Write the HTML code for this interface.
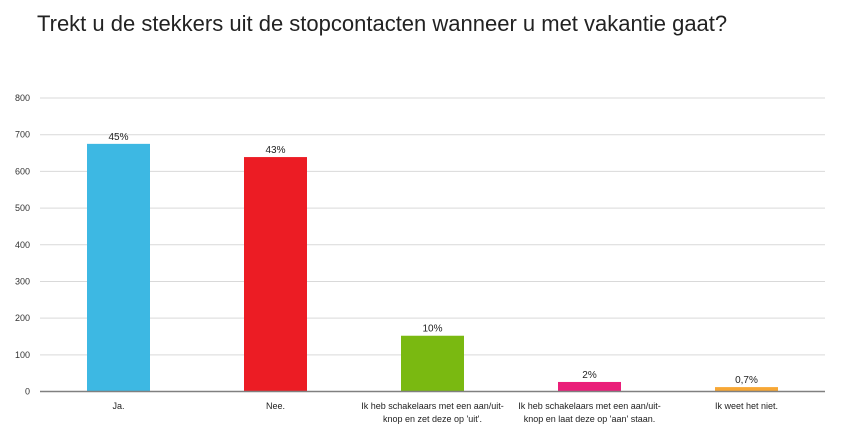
<!DOCTYPE html>
<html><head><meta charset="utf-8"><style>
body{margin:0;background:#fff;width:850px;height:429px;overflow:hidden;font-family:"Liberation Sans",sans-serif}
svg text{font-family:"Liberation Sans",sans-serif}
</style></head><body>
<svg id="chart" width="850" height="429">
<text x="37" y="31" font-size="22" fill="#222">Trekt u de stekkers uit de stopcontacten wanneer u met vakantie gaat?</text>
<g id="grid"></g><g id="bars"></g><g id="labels"></g>
</svg>
<script>
const categories=[["Ja."],["Nee."],["Ik heb schakelaars met een aan/uit-","knop en zet deze op 'uit'."],["Ik heb schakelaars met een aan/uit-","knop en laat deze op 'aan' staan."],["Ik weet het niet."]];
const values=[675,639,152,26,12];
const pctLabels=["45%","43%","10%","2%","0,7%"];
const colors=["#3db8e3","#ec1c24","#7ab911","#ea1e79","#f7a735"];
const yTicks=[0,100,200,300,400,500,600,700,800];
const NS="http://www.w3.org/2000/svg";
const x0=40,x1=825,y0=391.5,yTop=98,yMax=800;
const y=v=>y0-(v/yMax)*(y0-yTop);
const band=(x1-x0)/categories.length;
const xc=i=>x0+band*(i+0.5);
function mk(tag,attrs,parent){const e=document.createElementNS(NS,tag);for(const k in attrs)e.setAttribute(k,attrs[k]);parent.appendChild(e);return e;}
const grid=document.getElementById('grid'),bars=document.getElementById('bars'),labels=document.getElementById('labels');
yTicks.forEach(t=>{
 if(t>0){const l=mk('line',{x1:x0,x2:x1,y1:y(t),y2:y(t),stroke:'#d9d9d9','stroke-width':1},grid);
 
 }
 const tx=mk('text',{x:30,y:y(t)+3,'font-size':9,'text-anchor':'end',fill:'#333'},grid);tx.textContent=t;
 
 
});
values.forEach((v,i)=>{
 const r=mk('rect',{x:xc(i)-31.5,y:y(v),width:63,height:y0-y(v),fill:colors[i]},bars);
 
 
 const p=mk('text',{x:xc(i),y:y(v)-4,'font-size':10,'text-anchor':'middle',fill:'#222'},labels);p.textContent=pctLabels[i];
 
 
 categories[i].forEach((line,j)=>{
  const c=mk('text',{x:xc(i),y:409+j*13,'font-size':9,'text-anchor':'middle',fill:'#222'},labels);c.textContent=line;
  
  
 });
});
const ax=mk('line',{x1:x0,x2:x1,y1:y0,y2:y0,stroke:'#808080','stroke-width':1.5},labels);


</script>
</body></html>
